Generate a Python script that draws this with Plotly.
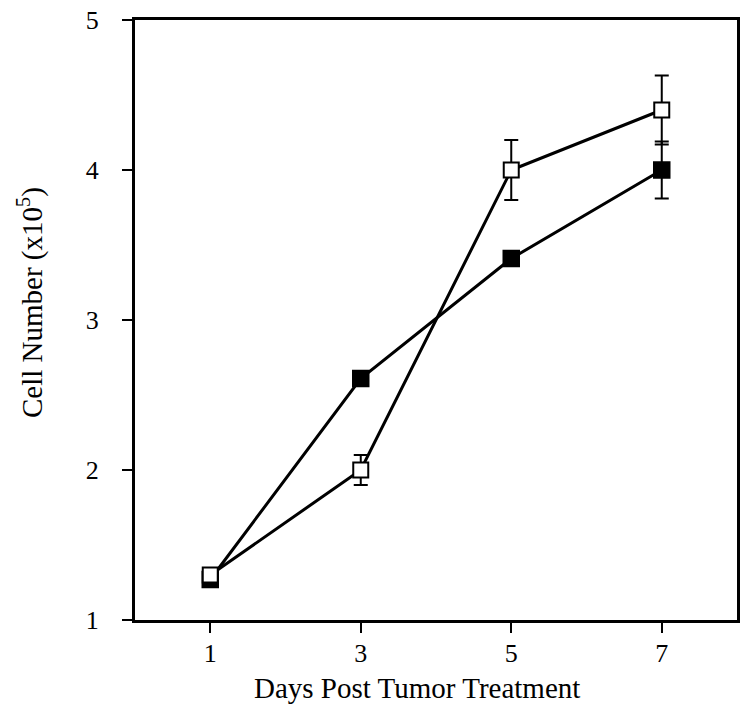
import plotly.graph_objects as go

days = [1, 3, 5, 7]
filled_vals = [1.27, 2.61, 3.41, 4.00]
filled_err = [0.0, 0.0, 0.0, 0.19]
open_vals = [1.30, 2.00, 4.00, 4.40]
open_err = [0.0, 0.10, 0.20, 0.23]
x_ticks = [1, 3, 5, 7]
y_ticks = [1, 2, 3, 4, 5]
x_title = "Days Post Tumor Treatment"
y_title = "Cell Number (x10<sup>5</sup>)"

fig = go.Figure()

# error bars (drawn beneath markers)
for vals, errs in [(filled_vals, filled_err), (open_vals, open_err)]:
    fig.add_trace(go.Scatter(
        x=days, y=vals, mode="markers",
        marker=dict(size=1, color="rgba(0,0,0,0)"),
        error_y=dict(type="data", array=errs, visible=True,
                     color="black", thickness=2, width=7),
        showlegend=False, hoverinfo="skip"))

fig.add_trace(go.Scatter(
    x=days, y=filled_vals, mode="lines+markers",
    line=dict(color="black", width=3),
    marker=dict(symbol="square", size=16, color="black",
                line=dict(color="black", width=1.5)),
    showlegend=False))

fig.add_trace(go.Scatter(
    x=days, y=open_vals, mode="lines+markers",
    line=dict(color="black", width=3),
    marker=dict(symbol="square", size=15, color="white",
                line=dict(color="black", width=2)),
    showlegend=False))

font_family = "Liberation Serif"
# page body has an 8px margin; compensate so the plot area lands at
# x 135..737, y 20..620 in the 749x712 window
fig.update_layout(
    width=733, height=696,
    margin=dict(l=127, r=4, t=12, b=84),
    plot_bgcolor="white", paper_bgcolor="white",
    font=dict(family=font_family, color="black"),
    xaxis=dict(
        range=[0, 8], tickvals=x_ticks, ticktext=[str(v) for v in x_ticks],
        ticks="outside", ticklen=10, tickwidth=2, tickcolor="black",
        showline=True, linecolor="black", linewidth=3, mirror=True,
        showgrid=False, zeroline=False, automargin=False,
        ticklabeloverflow="allow", ticklabelstandoff=-2,
        tickfont=dict(size=26, family=font_family),
    ),
    yaxis=dict(
        range=[1, 5], tickvals=y_ticks, ticktext=[str(v) for v in y_ticks],
        ticks="outside", ticklen=10, tickwidth=2, tickcolor="black",
        showline=True, linecolor="black", linewidth=3, mirror=True,
        showgrid=False, zeroline=False, automargin=False,
        ticklabelstandoff=18, ticklabeloverflow="allow",
        tickfont=dict(size=26, family=font_family),
    ),
    annotations=[
        dict(text=x_title, xref="paper", yref="paper", x=0.4684, y=-0.1133,
             xanchor="center", yanchor="middle", showarrow=False,
             font=dict(size=29, family=font_family, color="black")),
        dict(text=y_title, xref="paper", yref="paper", x=-0.1744, y=0.5283,
             xanchor="center", yanchor="middle", showarrow=False, textangle=-90,
             font=dict(size=29, family=font_family, color="black")),
    ],
)

fig.write_html("out.html")
